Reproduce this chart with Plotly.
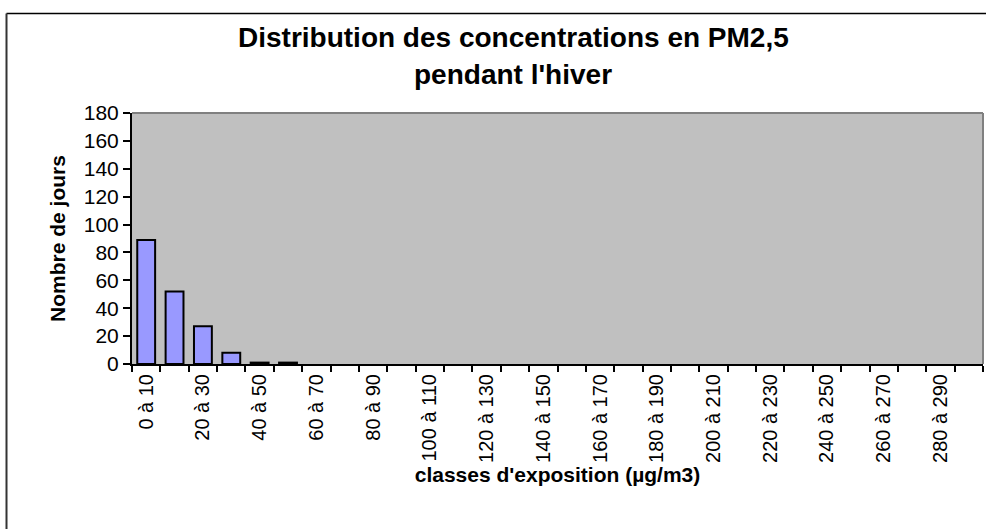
import plotly.graph_objects as go

categories = [f"{a} à {a + 10}" for a in range(0, 300, 10)]
jours = [89, 52, 27, 8, 1, 1] + [None] * 24
title_lines = ["Distribution des concentrations en PM2,5", "pendant l'hiver"]
y_title = "Nombre de jours"
x_title = "classes d'exposition (µg/m3)"

tick_text = [c if i % 2 == 0 else "" for i, c in enumerate(categories)]

W, H = 986, 529
L, R, T, B = 132, 3, 113, 165
PW, PH = W - L - R, H - T - B


def px_x(p):
    return (p - L) / PW


def px_y(p):
    return (H - B - p) / PH


fig = go.Figure()
fig.add_trace(go.Bar(
    x=categories, y=jours,
    marker=dict(color="#9999FF", line=dict(color="black", width=2)),
    width=0.63,
))

font_family = "Liberation Sans, Arial, sans-serif"

fig.update_layout(
    width=W, height=H,
    margin=dict(l=L, r=R, t=T, b=B),
    paper_bgcolor="white",
    plot_bgcolor="#C0C0C0",
    showlegend=False,
    font=dict(family=font_family, color="black", size=21),
)

fig.update_xaxes(
    type="category",
    tickmode="array", tickvals=categories, ticktext=tick_text,
    tickson="boundaries",
    ticks="outside", ticklen=6, tickcolor="black", tickwidth=1.5,
    tickangle=-90, tickfont=dict(size=20),
    showline=True, linecolor="black", linewidth=2,
    showgrid=False,
    range=[-0.5, 29.5],
    title=dict(text=f"<b>{x_title}</b>", font=dict(size=21), standoff=3),
)
fig.update_yaxes(
    range=[0, 180], dtick=20, tick0=0,
    ticks="outside", ticklen=7, tickcolor="black", tickwidth=1.5,
    tickfont=dict(size=21),
    showline=True, linecolor="black", linewidth=2,
    showgrid=False, zeroline=False,
    title=dict(text=f"<b>{y_title}</b>", font=dict(size=21), standoff=12),
)

# Title lines
fig.add_annotation(xref="paper", yref="paper", x=px_x(513), y=px_y(37),
                   text=f"<b>{title_lines[0]}</b>", showarrow=False,
                   font=dict(size=28), xanchor="center", yanchor="middle")
fig.add_annotation(xref="paper", yref="paper", x=px_x(513), y=px_y(75),
                   text=f"<b>{title_lines[1]}</b>", showarrow=False,
                   font=dict(size=28), xanchor="center", yanchor="middle")

# Plot area border (grey top/right)
fig.add_shape(type="line", xref="paper", yref="paper", x0=0, x1=1, y0=1, y1=1,
              line=dict(color="#808080", width=2))
fig.add_shape(type="line", xref="paper", yref="paper", x0=1, x1=1, y0=0, y1=1,
              line=dict(color="#808080", width=2))

# Outer chart border (left & top)
fig.add_shape(type="line", xref="paper", yref="paper", x0=px_x(6.5), x1=px_x(986), y0=px_y(13.5), y1=px_y(13.5),
              line=dict(color="black", width=1.5))
fig.add_shape(type="line", xref="paper", yref="paper", x0=px_x(6.5), x1=px_x(6.5), y0=px_y(13.5), y1=px_y(529),
              line=dict(color="#333333", width=2))

fig.write_html("out.html", config={"displayModeBar": False},
               post_script="document.body.style.margin='0';")
